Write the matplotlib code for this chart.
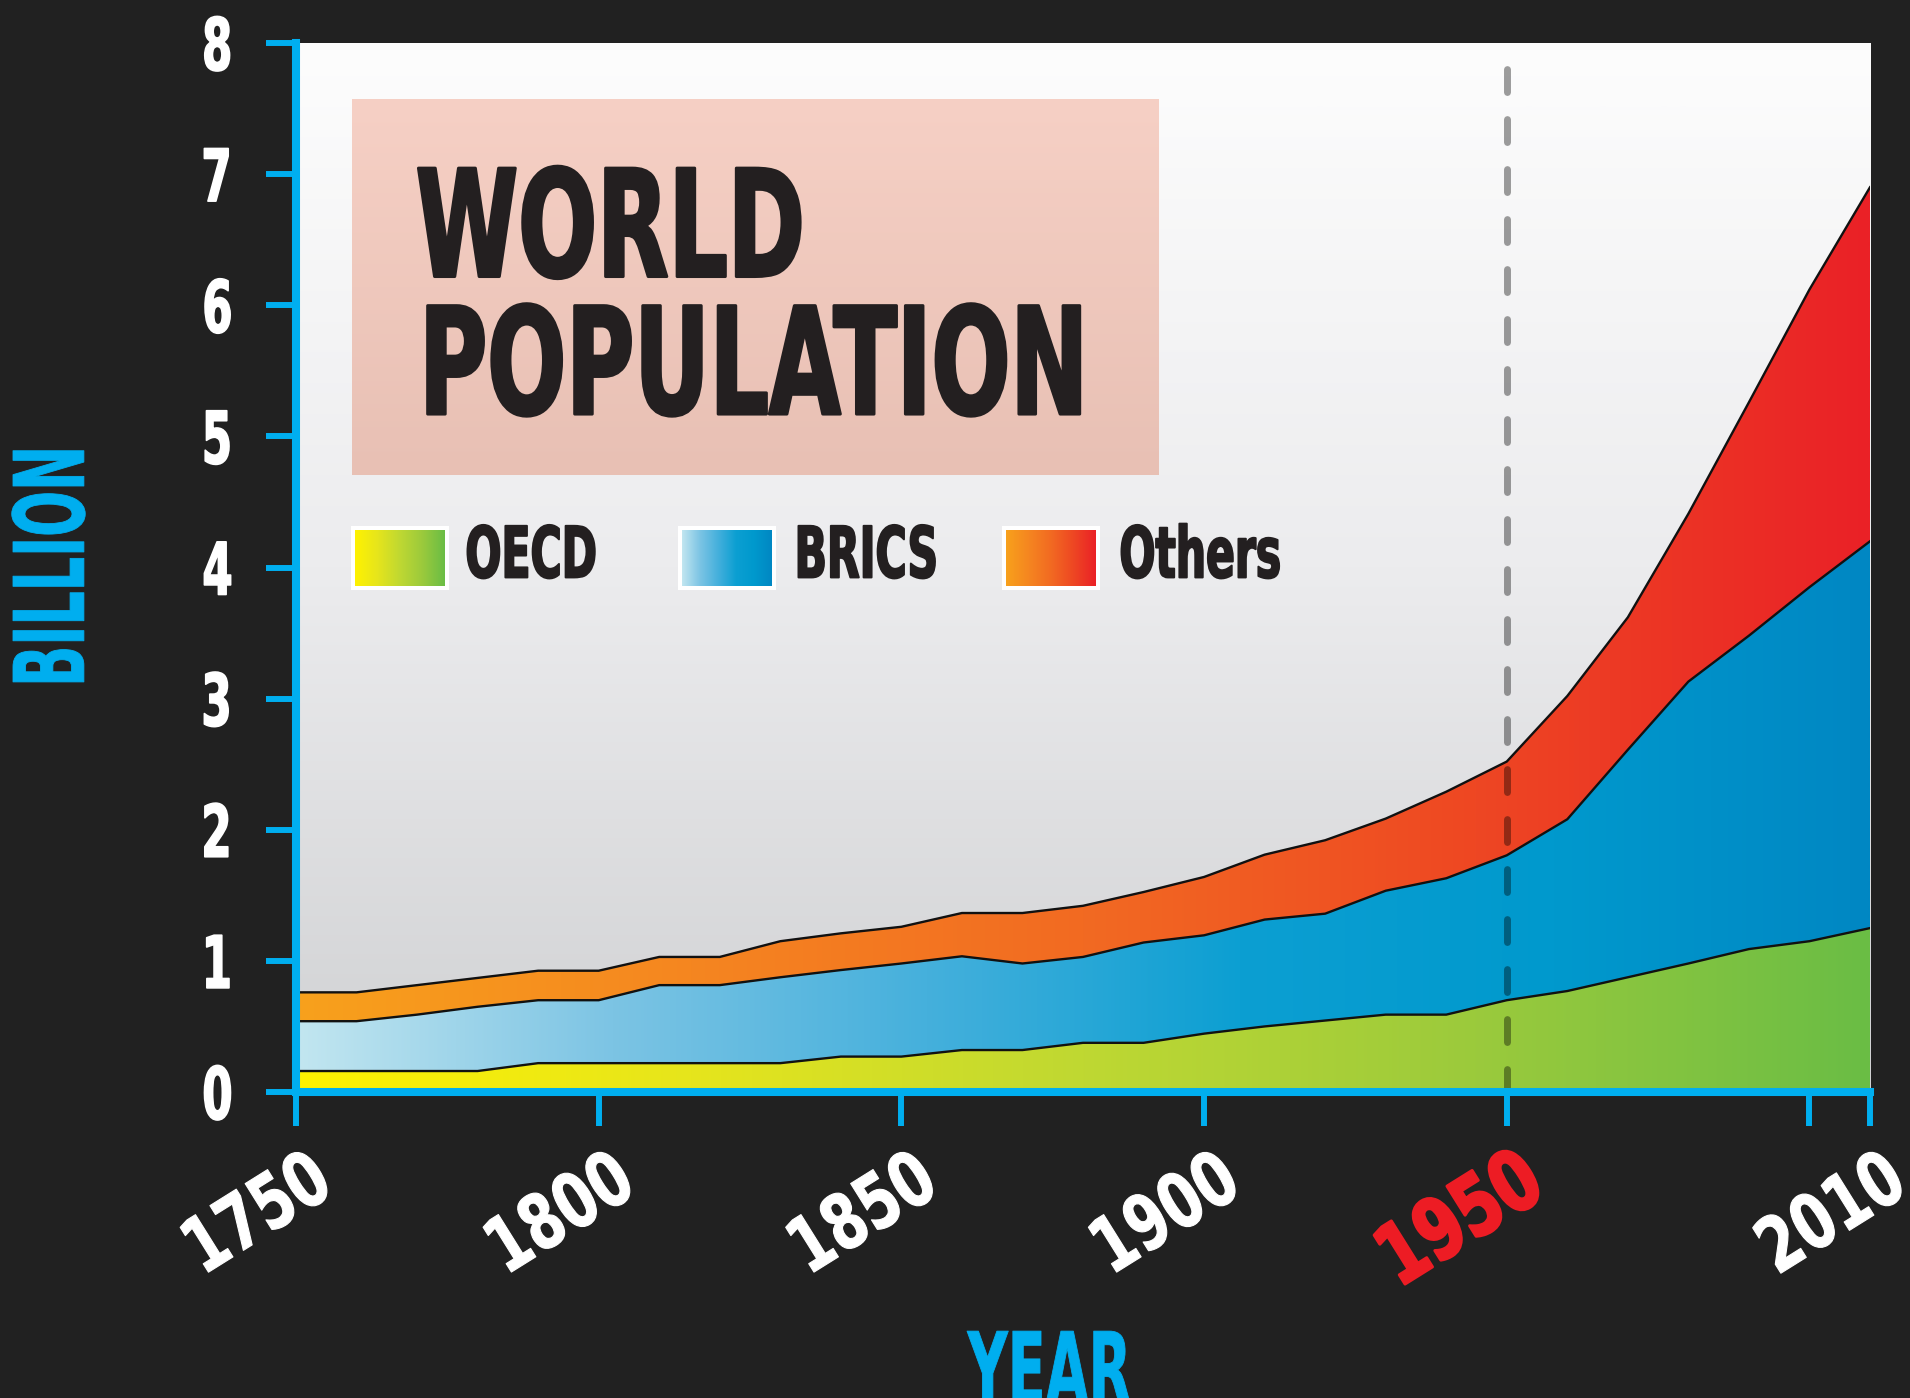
import numpy as np
import matplotlib
matplotlib.use("Agg")
import matplotlib.pyplot as plt
from matplotlib.colors import LinearSegmentedColormap
from matplotlib.patches import Rectangle
from matplotlib.patheffects import AbstractPathEffect
from matplotlib.transforms import Affine2D, blended_transform_factory, offset_copy

# ---------------------------------------------------------------- data
years = list(range(1750, 2011, 10))
oecd = [0.16, 0.16, 0.16, 0.16, 0.22, 0.22, 0.22, 0.22, 0.22, 0.27, 0.27, 0.32, 0.32, 0.375,
        0.375, 0.445, 0.50, 0.545, 0.59, 0.59, 0.70, 0.77, 0.875, 0.98, 1.09, 1.15, 1.25]
brics = [0.38, 0.38, 0.43, 0.49, 0.48, 0.48, 0.595, 0.595, 0.655, 0.66, 0.71, 0.715, 0.66, 0.655,
         0.765, 0.75, 0.815, 0.815, 0.945, 1.04, 1.105, 1.31, 1.735, 2.15, 2.39, 2.70, 2.95]
others = [0.22, 0.22, 0.225, 0.22, 0.225, 0.225, 0.215, 0.215, 0.275, 0.28, 0.28, 0.33, 0.385, 0.39,
          0.385, 0.445, 0.495, 0.56, 0.55, 0.66, 0.715, 0.94, 1.01, 1.28, 1.78, 2.27, 2.70]
series_names = ["OECD", "BRICS", "Others"]
y_ticks = [0, 1, 2, 3, 4, 5, 6, 7, 8]
x_ticks = [1750, 1800, 1850, 1900, 1950, 2000, 2010]
x_tick_labels = ["1750", "1800", "1850", "1900", "1950", "", "2010"]
highlight_year = 1950
title_lines = ["WORLD", "POPULATION"]
x_label = "YEAR"
y_label = "BILLION"

# ---------------------------------------------------------------- style
FONT = ["DejaVu Sans"]
BG = "#212121"
CYAN = "#00aeef"
INK = "#231f20"
RED = "#ed1c24"

gradients = [
    ["#fff200", "#e6e51c", "#bfd832", "#9bca3c", "#6abd45"],
    ["#c2e6f0", "#7cc4e4", "#45b0dc", "#0c9fd2", "#0099cd", "#0087c3"],
    ["#f8a11c", "#f58620", "#f26a22", "#ee4723", "#ea2127"],
]

plt.rcParams["lines.scale_dashes"] = False


class Condensed(AbstractPathEffect):
    """Squeeze glyph outlines horizontally and optionally embolden them."""

    def __init__(self, sx=0.8, anchor="left", stroke=0.0):
        super().__init__()
        self.sx = sx
        self.anchor = anchor
        self.stroke = stroke

    def draw_path(self, renderer, gc, tpath, affine, rgbFace=None):
        ext = tpath.get_extents()
        if self.anchor == "center":
            cx = 0.5 * (ext.x0 + ext.x1)
        elif self.anchor == "right":
            cx = ext.x1
        else:
            cx = ext.x0
        tr = Affine2D().translate(-cx, 0).scale(self.sx, 1).translate(cx, 0) + affine
        if self.stroke > 0 and rgbFace is not None:
            gc0 = renderer.new_gc()
            gc0.copy_properties(gc)
            gc0.set_linewidth(self.stroke)
            gc0.set_foreground(rgbFace)
            gc0.set_joinstyle("round")
            renderer.draw_path(gc0, tpath, tr, rgbFace)
            gc0.restore()
        else:
            renderer.draw_path(gc, tpath, tr, rgbFace)


def hgrad(stops, n=256):
    cmap = LinearSegmentedColormap.from_list("g", stops)
    return cmap(np.linspace(0, 1, n))[None, :, :]


def vgrad(stops, n=256):
    cmap = LinearSegmentedColormap.from_list("g", stops)
    return cmap(np.linspace(0, 1, n))[:, None, :]


W, H = 1910, 1398
fig = plt.figure(figsize=(W / 100, H / 100), dpi=100, facecolor=BG)
ax_l, ax_r, ax_t, ax_b = 296, 1870, 43, 1092
ax = fig.add_axes([ax_l / W, 1 - ax_b / H, (ax_r - ax_l) / W, (ax_b - ax_t) / H])
ax.set_facecolor("white")

x0, x1 = years[0], years[-1]
y0, y1 = y_ticks[0], y_ticks[-1]

# plot background: light vertical gradient
ax.imshow(vgrad(["#fdfdfd", "#ececee", "#d0d1d3"]), extent=(x0, x1, y0, y1),
          aspect="auto", interpolation="bicubic", zorder=0)

# stacked areas, each filled with a horizontal gradient clipped to its polygon
polys = ax.stackplot(years, oecd, brics, others, colors=["none"] * 3, linewidth=0, zorder=2)
for poly, stops in zip(polys, gradients):
    im = ax.imshow(hgrad(stops), extent=(x0, x1, y0, y1), aspect="auto",
                   interpolation="bilinear", zorder=2)
    im.set_clip_path(poly.get_paths()[0], ax.transData)

cum = np.cumsum([oecd, brics, others], axis=0)
for c in cum:
    ax.plot(years, c, color="#111111", lw=1.7, zorder=3, solid_joinstyle="round")

# reference year marker
ax.axvline(highlight_year, color="black", alpha=0.38, lw=5, ls=(0, (16.5, 19.5)),
           dash_capstyle="round", zorder=4)

ax.set_xlim(x0, x1)
ax.set_ylim(y0, y1)

# title panel
tb = (0.0356, 0.5477, 0.588, 0.9457)
ax.imshow(vgrad(["#f6d0c5", "#e8c0b4"]), extent=tb, transform=ax.transAxes,
          aspect="auto", interpolation="bicubic", zorder=5)
title_fx = [Condensed(0.625, "left", 2.2)]
ax.text(0.075, 0.7774, title_lines[0], transform=ax.transAxes, family=FONT, weight="bold",
        fontsize=107, color=INK, ha="left", va="baseline", zorder=6, path_effects=title_fx)
ax.text(0.075, 0.6463, title_lines[1], transform=ax.transAxes, family=FONT, weight="bold",
        fontsize=107, color=INK, ha="left", va="baseline", zorder=6, path_effects=title_fx)

# legend
sw_x = [0.0349, 0.2427, 0.4485]
sw_w = 0.062
sw_y, sw_h = 0.4786, 0.061
txt_x = [0.1067, 0.3151, 0.5222]
bx, by = 4 / (ax_r - ax_l), 4 / (ax_b - ax_t)
for name, sx, tx, stops in zip(series_names, sw_x, txt_x, gradients):
    ax.add_patch(Rectangle((sx, sw_y), sw_w, sw_h, transform=ax.transAxes,
                           facecolor="white", edgecolor="none", zorder=6))
    ax.imshow(hgrad(stops), extent=(sx + bx, sx + sw_w - bx, sw_y + by, sw_y + sw_h - by),
              transform=ax.transAxes, aspect="auto", interpolation="bilinear", zorder=7)
    ax.text(tx, sw_y + sw_h / 2, name, transform=ax.transAxes, family=FONT, weight="bold",
            fontsize=51, color=INK, ha="left", va="center", zorder=7,
            path_effects=[Condensed(0.60, "left", 1.4)])

ax.set_xlim(x0, x1)
ax.set_ylim(y0, y1)

# axes frame
for side in ("top", "right"):
    ax.spines[side].set_visible(False)
for side in ("left", "bottom"):
    ax.spines[side].set_color(CYAN)
    ax.spines[side].set_linewidth(5.8)
    ax.spines[side].set_zorder(8)

ax.set_yticks(y_ticks)
ax.set_yticklabels([str(v) for v in y_ticks])
ax.tick_params(axis="y", direction="out", length=21.6, width=4.3, color=CYAN,
               pad=23, labelsize=52, labelcolor="white")
for lab in ax.get_yticklabels():
    lab.set_family(FONT)
    lab.set_weight("bold")
    lab.set_path_effects([Condensed(0.60, "right", 1.2)])

ax.set_xticks(x_ticks)
ax.set_xticklabels([])
ax.tick_params(axis="x", direction="out", length=24.5, width=4.3, color=CYAN)

xtr = offset_copy(blended_transform_factory(ax.transData, ax.transAxes), fig,
                  x=30, y=-82, units="dots")
for yr, lab in zip(x_ticks, x_tick_labels):
    if not lab:
        continue
    hot = yr == highlight_year
    ax.text(yr, 0, lab, transform=xtr, rotation=32, rotation_mode="anchor",
            ha="right", va="center", family=FONT, weight="bold",
            fontsize=60 if hot else 55, color=RED if hot else "white", clip_on=False,
            path_effects=[Condensed(0.76 if hot else 0.74, "right", 2.2 if hot else 0.8)])

ax.set_ylabel(y_label, family=FONT, weight="bold", fontsize=70, color=CYAN,
              ha="center", va="center", path_effects=[Condensed(0.555, "center", 0.6)])
ax.yaxis.set_label_coords(-0.1516, 0.501)
ax.set_xlabel(x_label, family=FONT, weight="bold", fontsize=72, color=CYAN,
              ha="center", va="top", path_effects=[Condensed(0.555, "center", 0.6)])
ax.xaxis.set_label_coords(0.479, -0.225)

fig.savefig("out.png", dpi=100, facecolor=BG)
